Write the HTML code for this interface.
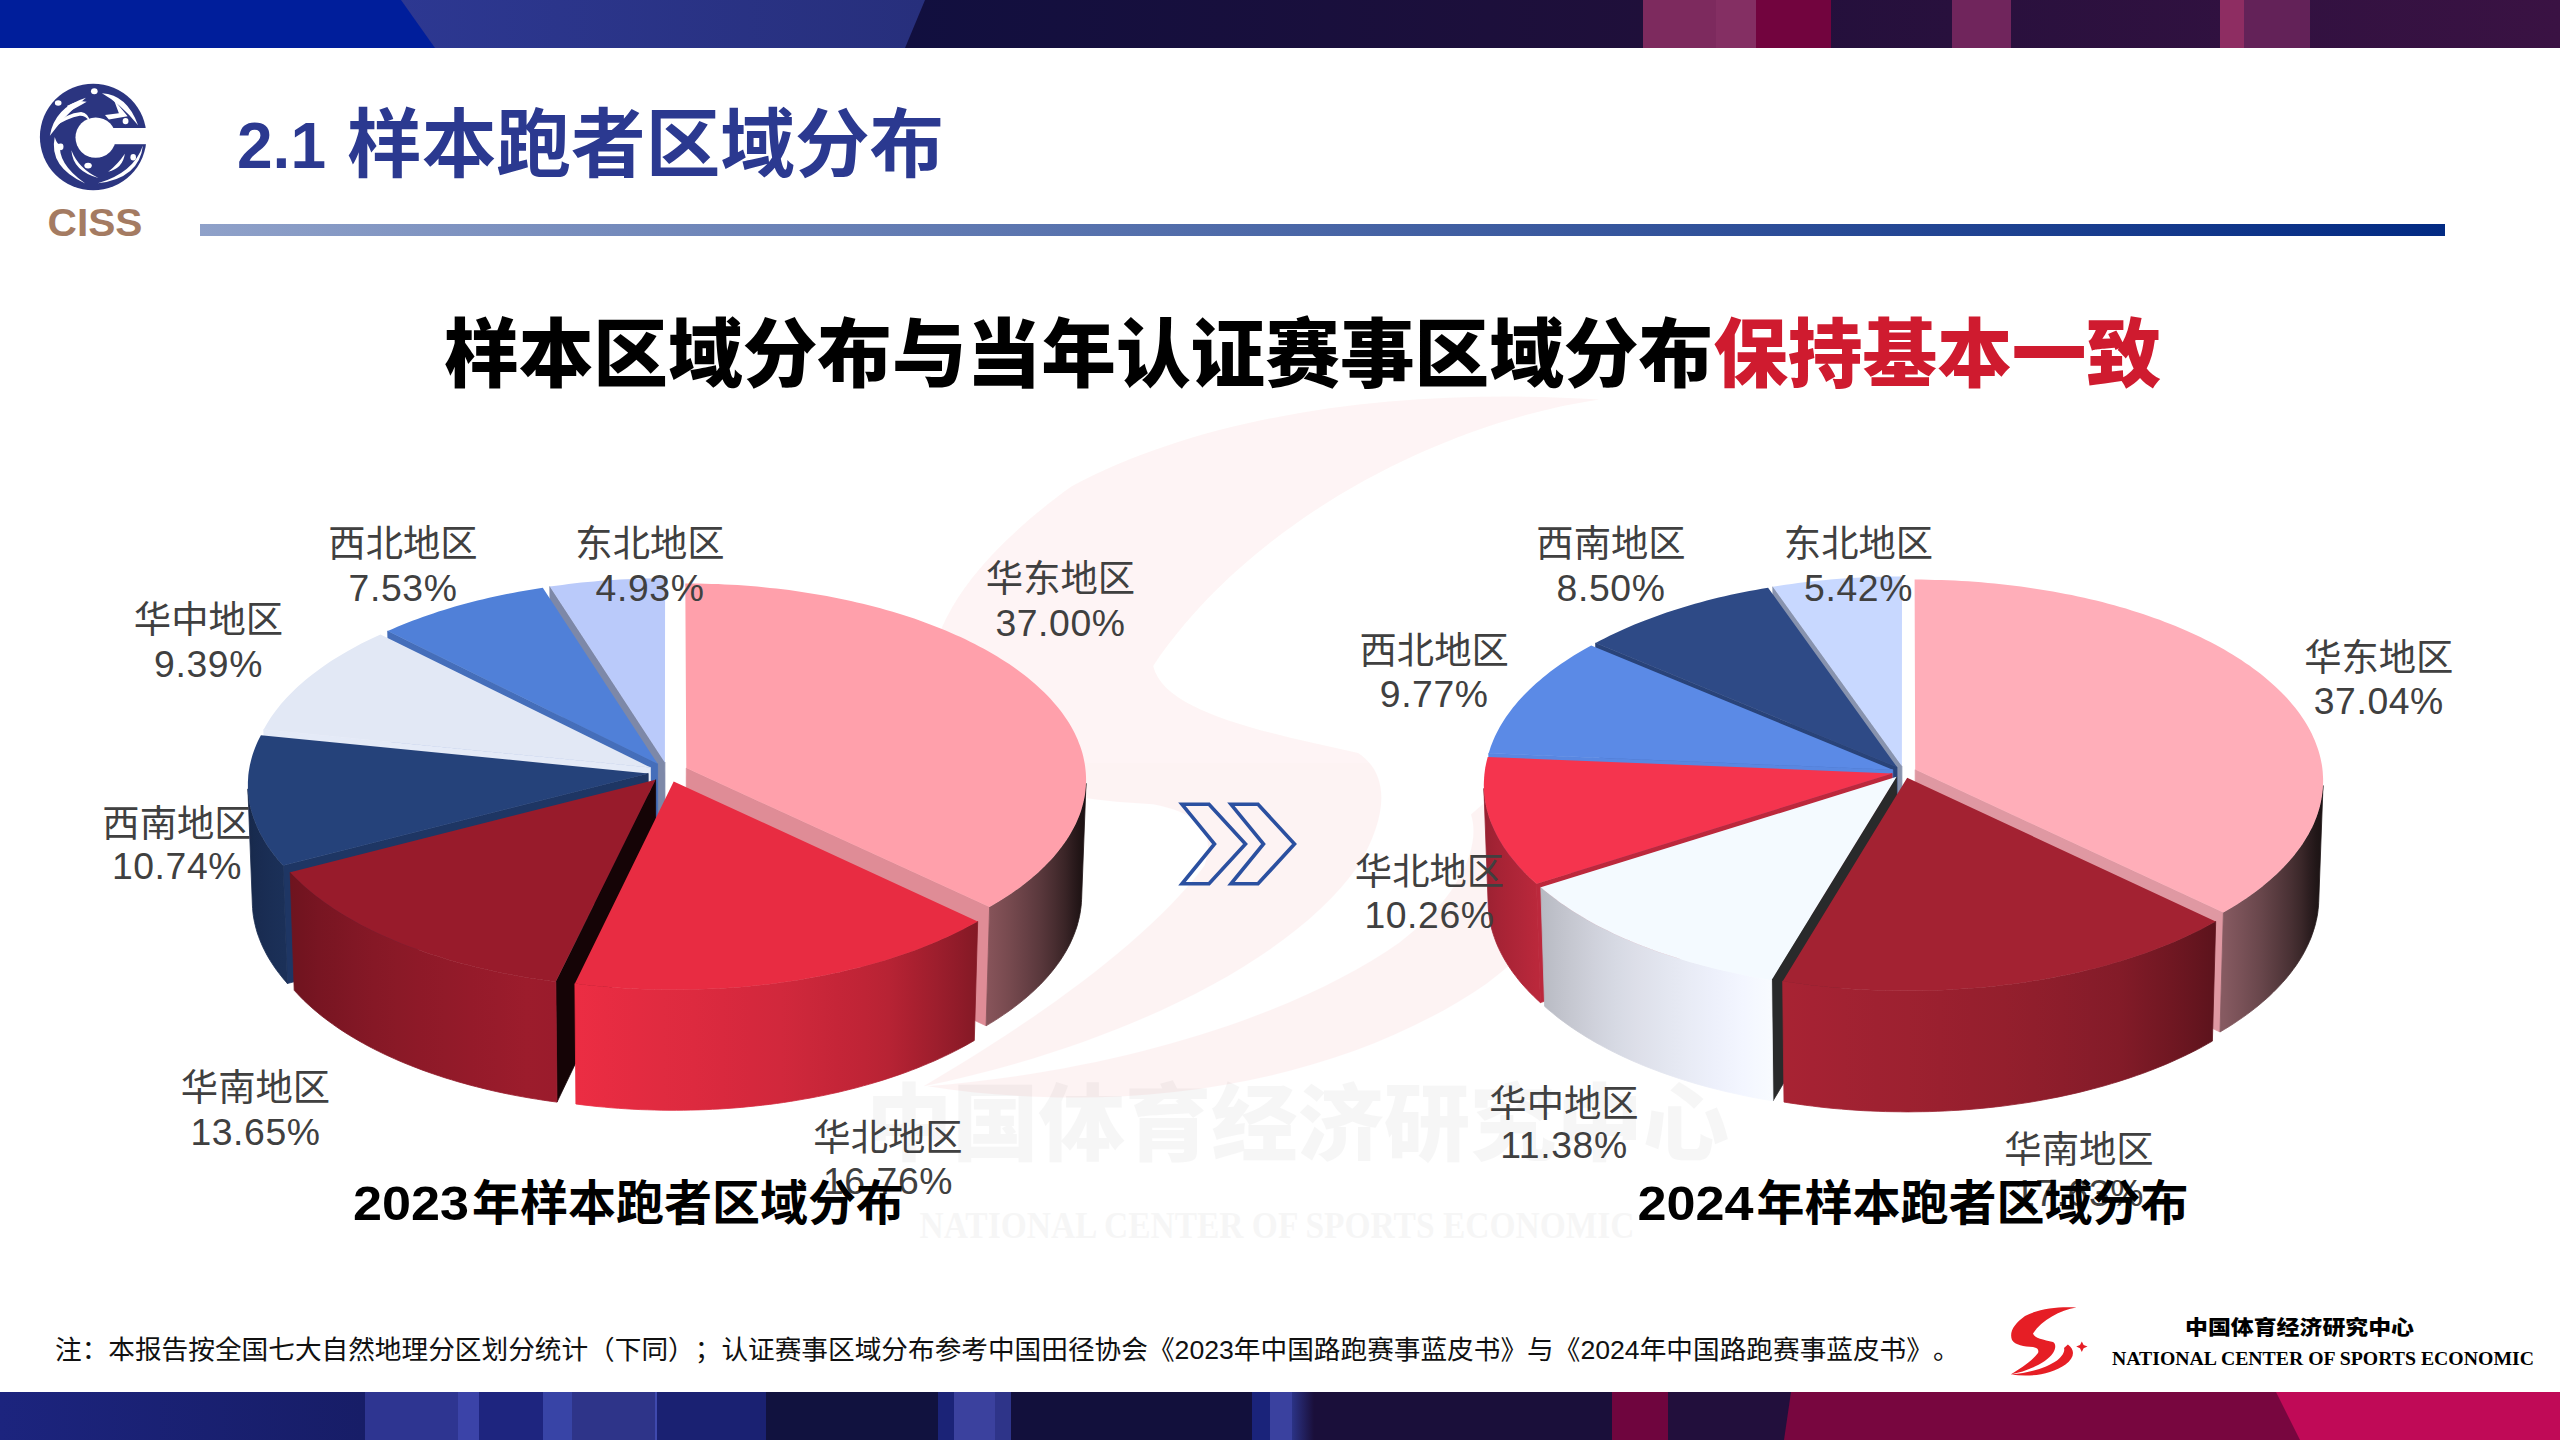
<!DOCTYPE html>
<html lang="zh-CN"><head><meta charset="utf-8"><title>2.1 样本跑者区域分布</title>
<style>html,body{margin:0;padding:0;background:#fff}svg{display:block}text{white-space:pre;text-spacing-trim:space-all}</style></head><body>
<svg width="2560" height="1440" viewBox="0 0 2560 1440">
<defs>
<linearGradient id="divg" x1="0" y1="0" x2="1" y2="0"><stop offset="0" stop-color="#8FA1C9"/><stop offset="1" stop-color="#022A83"/></linearGradient>
<linearGradient id="tb2" x1="0" y1="0" x2="1" y2="0"><stop offset="0" stop-color="#2D3892"/><stop offset="1" stop-color="#272F7C"/></linearGradient>
<linearGradient id="tb3" gradientUnits="userSpaceOnUse" x1="900" y1="0" x2="2560" y2="0"><stop offset="0" stop-color="#110F3F"/><stop offset="0.45" stop-color="#1F0F3A"/><stop offset="1" stop-color="#3A1243"/></linearGradient>
<linearGradient id="bb1" gradientUnits="userSpaceOnUse" x1="0" y1="0" x2="365" y2="0"><stop offset="0" stop-color="#1C247E"/><stop offset="1" stop-color="#171D67"/></linearGradient>
<linearGradient id="bb2" gradientUnits="userSpaceOnUse" x1="1292" y1="0" x2="1314" y2="0"><stop offset="0" stop-color="#2B3386"/><stop offset="1" stop-color="#1A0F3A"/></linearGradient>
<linearGradient id="ga0" gradientUnits="userSpaceOnUse" x1="1086.0" y1="0" x2="989.6" y2="0"><stop offset="0.000" stop-color="#1A1012"/><stop offset="0.018" stop-color="#1D1214"/><stop offset="0.059" stop-color="#201415"/><stop offset="0.124" stop-color="#2A1A1C"/><stop offset="0.213" stop-color="#392426"/><stop offset="0.326" stop-color="#482D30"/><stop offset="0.461" stop-color="#58373B"/><stop offset="0.619" stop-color="#674045"/><stop offset="0.799" stop-color="#774A4F"/><stop offset="1.000" stop-color="#865359"/></linearGradient><linearGradient id="ga3" gradientUnits="userSpaceOnUse" x1="283.2" y1="0" x2="247.9" y2="0"><stop offset="0.000" stop-color="#1B3058"/><stop offset="0.345" stop-color="#1A2E55"/><stop offset="0.618" stop-color="#192C52"/><stop offset="0.818" stop-color="#182B4F"/><stop offset="0.946" stop-color="#17294C"/><stop offset="1.000" stop-color="#16284A"/></linearGradient><linearGradient id="ga2" gradientUnits="userSpaceOnUse" x1="555.8" y1="0" x2="290.2" y2="0"><stop offset="0.000" stop-color="#9A1B2C"/><stop offset="0.109" stop-color="#9C1C2C"/><stop offset="0.215" stop-color="#981B2B"/><stop offset="0.318" stop-color="#951A2A"/><stop offset="0.417" stop-color="#911A29"/><stop offset="0.511" stop-color="#8E1928"/><stop offset="0.600" stop-color="#8A1927"/><stop offset="0.683" stop-color="#861826"/><stop offset="0.760" stop-color="#811725"/><stop offset="0.830" stop-color="#7C1623"/><stop offset="0.894" stop-color="#781522"/><stop offset="0.951" stop-color="#731420"/><stop offset="1.000" stop-color="#6E141F"/></linearGradient><linearGradient id="ga1" gradientUnits="userSpaceOnUse" x1="977.7" y1="0" x2="574.9" y2="0"><stop offset="0.000" stop-color="#831925"/><stop offset="0.049" stop-color="#901B29"/><stop offset="0.103" stop-color="#9D1E2D"/><stop offset="0.160" stop-color="#AA2030"/><stop offset="0.220" stop-color="#B72334"/><stop offset="0.283" stop-color="#BF2436"/><stop offset="0.350" stop-color="#C52538"/><stop offset="0.418" stop-color="#CB273A"/><stop offset="0.488" stop-color="#D1283C"/><stop offset="0.560" stop-color="#D5283D"/><stop offset="0.633" stop-color="#D9293E"/><stop offset="0.707" stop-color="#DD2A3F"/><stop offset="0.781" stop-color="#E02B40"/><stop offset="0.855" stop-color="#E42B41"/><stop offset="0.928" stop-color="#E82C42"/><stop offset="1.000" stop-color="#EC2D43"/></linearGradient>
<linearGradient id="gb0" gradientUnits="userSpaceOnUse" x1="2323.0" y1="0" x2="2223.4" y2="0"><stop offset="0.000" stop-color="#1B1213"/><stop offset="0.019" stop-color="#1D1415"/><stop offset="0.061" stop-color="#201617"/><stop offset="0.127" stop-color="#2A1C1E"/><stop offset="0.216" stop-color="#3A2729"/><stop offset="0.329" stop-color="#493134"/><stop offset="0.464" stop-color="#583B3F"/><stop offset="0.622" stop-color="#68464B"/><stop offset="0.801" stop-color="#775056"/><stop offset="1.000" stop-color="#865A61"/></linearGradient><linearGradient id="gb3" gradientUnits="userSpaceOnUse" x1="1536.5" y1="0" x2="1483.9" y2="0"><stop offset="0.000" stop-color="#BA283B"/><stop offset="0.294" stop-color="#B12639"/><stop offset="0.539" stop-color="#AB2436"/><stop offset="0.732" stop-color="#A52335"/><stop offset="0.873" stop-color="#9F2233"/><stop offset="0.963" stop-color="#992131"/><stop offset="1.000" stop-color="#931F2F"/></linearGradient><linearGradient id="gb2" gradientUnits="userSpaceOnUse" x1="1771.6" y1="0" x2="1540.8" y2="0"><stop offset="0.000" stop-color="#F8FBFF"/><stop offset="0.125" stop-color="#F3F6FF"/><stop offset="0.247" stop-color="#EDF0FB"/><stop offset="0.363" stop-color="#E8EBF5"/><stop offset="0.475" stop-color="#E2E5EF"/><stop offset="0.580" stop-color="#DDDFE9"/><stop offset="0.679" stop-color="#D6D9E3"/><stop offset="0.771" stop-color="#CFD1DB"/><stop offset="0.855" stop-color="#C7C9D2"/><stop offset="0.932" stop-color="#BFC1CA"/><stop offset="1.000" stop-color="#B7BAC2"/></linearGradient><linearGradient id="gb1" gradientUnits="userSpaceOnUse" x1="2215.7" y1="0" x2="1782.7" y2="0"><stop offset="0.000" stop-color="#5C131C"/><stop offset="0.050" stop-color="#66151F"/><stop offset="0.103" stop-color="#701722"/><stop offset="0.161" stop-color="#791925"/><stop offset="0.221" stop-color="#831B28"/><stop offset="0.285" stop-color="#871C2A"/><stop offset="0.352" stop-color="#8C1D2B"/><stop offset="0.421" stop-color="#901E2C"/><stop offset="0.491" stop-color="#941F2D"/><stop offset="0.564" stop-color="#971F2E"/><stop offset="0.637" stop-color="#9A202F"/><stop offset="0.710" stop-color="#9D2130"/><stop offset="0.784" stop-color="#9F2131"/><stop offset="0.857" stop-color="#A22232"/><stop offset="0.929" stop-color="#A52233"/><stop offset="1.000" stop-color="#A82333"/></linearGradient>
</defs>
<rect width="2560" height="1440" fill="#fff"/>
<g opacity="0.045" fill="#E8000C" transform="translate(815,302) scale(10.25)"><path d="M76.5,9.5 C60,12 42,22 33,35.5 C34,40 44,42 53,44 C56,46 56,50 53,55 C46,65 28,73 10.6,76.5 C20,71 32,63 38,55 C39,52 38,50 33,49 C24,48.5 15,47 12,42 C9,34 14,26 25,18 C40,10 60,8.5 76.5,9.5 Z"/><path d="M67.9,46.6 C75.5,52 74.5,60 65.5,66.5 C51,76.5 30,79.5 11,76.5 C30,75 47,69.5 57,62.5 C63,58 65,53 64,50 Z"/><path d="M81.8,43.5 L83.6,47 L87.5,48.6 L83.6,50.2 L81.8,54 L80,50.2 L76.2,48.6 L80,47 Z"/></g>
<g opacity="0.032" fill="#000">
<text x="1297.5" y="1154" font-size="84" font-weight="900" text-anchor="middle" textLength="863" lengthAdjust="spacingAndGlyphs" font-family="'Liberation Sans','Noto Sans CJK SC',sans-serif">中国体育经济研究中心</text>
<text x="1277" y="1237.5" font-size="37" font-weight="700" text-anchor="middle" textLength="715" lengthAdjust="spacingAndGlyphs" font-family="'Liberation Serif','Noto Serif CJK SC',serif">NATIONAL CENTER OF SPORTS ECONOMIC</text>
</g>
<g id="topbar">
<rect x="0" y="0" width="2560" height="48" fill="url(#tb3)"/>
<polygon points="380,0 925,0 905,48 380,48" fill="url(#tb2)"/>
<polygon points="0,0 401,0 435,48 0,48" fill="#001E9B"/>
<rect x="1643" y="0" width="73" height="48" fill="#7D2A5E"/>
<rect x="1716" y="0" width="40" height="48" fill="#842F63"/>
<rect x="1756" y="0" width="75" height="48" fill="#72043E"/>
<rect x="1952" y="0" width="59" height="48" fill="#70255C"/>
<rect x="2220" y="0" width="24" height="48" fill="#8E2D62"/>
<rect x="2244" y="0" width="66" height="48" fill="#632258"/>
</g>
<g id="botbar">
<rect x="0" y="1392" width="365" height="48" fill="url(#bb1)"/>
<rect x="365" y="1392" width="93" height="48" fill="#2E3591"/>
<rect x="458" y="1392" width="21" height="48" fill="#3B43A8"/>
<rect x="479" y="1392" width="64" height="48" fill="#1E257F"/>
<rect x="543" y="1392" width="29" height="48" fill="#3844A6"/>
<rect x="572" y="1392" width="83" height="48" fill="#2E3489"/>
<rect x="655" y="1392" width="2" height="48" fill="#3F49AE"/>
<rect x="657" y="1392" width="109" height="48" fill="#1A2172"/>
<rect x="766" y="1392" width="172" height="48" fill="#11123F"/>
<rect x="938" y="1392" width="16" height="48" fill="#1B2377"/>
<rect x="954" y="1392" width="41" height="48" fill="#3B419E"/>
<rect x="995" y="1392" width="16" height="48" fill="#2E3489"/>
<rect x="1011" y="1392" width="241" height="48" fill="#12103C"/>
<rect x="1252" y="1392" width="18" height="48" fill="#1A237A"/>
<rect x="1270" y="1392" width="22" height="48" fill="#3A419F"/>
<rect x="1292" y="1392" width="22" height="48" fill="url(#bb2)"/>
<rect x="1314" y="1392" width="298" height="48" fill="#1A0F3A"/>
<rect x="1612" y="1392" width="56" height="48" fill="#6F053E"/>
<rect x="1668" y="1392" width="132" height="48" fill="#220F3C"/>
<polygon points="1791,1392 2560,1392 2560,1440 1784,1440" fill="#78063F"/>
<polygon points="2276,1392 2560,1392 2560,1440 2300,1440" fill="#C00A57"/>
</g>
<g id="ciss">
<circle cx="93.2" cy="137" r="53.3" fill="#2B3580"/>
<circle cx="95.7" cy="137.6" r="20.2" fill="#fff"/>
<rect x="96" y="128" width="55" height="16.2" fill="#fff"/>
<g fill="#fff" transform="translate(20,60) scale(0.13889)">
<path d="M215,545 Q250,340 475,272 Q335,385 215,545 Z"/>
<path d="M340,330 Q420,285 480,300 Q430,330 350,372 Z"/>
<path d="M250,480 Q330,380 440,375 Q495,385 500,440 Q470,400 430,402 Q340,420 250,480 Z"/>
<path d="M590,240 Q770,250 850,470 Q725,315 590,240 Z"/>
<path d="M675,285 L775,405 L640,428 L612,396 L712,384 Z"/>
<path d="M250,555 Q205,770 470,890 Q265,745 290,600 Q270,620 250,555 Z"/>
<path d="M370,650 Q380,800 565,850 Q420,780 370,650 Z"/>
<path d="M755,675 Q740,780 635,805 Q705,750 755,675 Z"/>
<path d="M885,615 Q860,850 560,888 Q820,810 885,615 Z"/>
<ellipse cx="535" cy="225" rx="24" ry="21"/><ellipse cx="275" cy="310" rx="24" ry="20"/><ellipse cx="760" cy="440" rx="21" ry="23"/><ellipse cx="295" cy="625" rx="18" ry="24"/><ellipse cx="490" cy="760" rx="27" ry="21"/><ellipse cx="815" cy="700" rx="20" ry="23"/>
</g>
<text x="95" y="235.6" font-size="39" font-weight="700" fill="#A47B62" text-anchor="middle" textLength="95" lengthAdjust="spacingAndGlyphs" font-family="'Liberation Sans','Noto Sans CJK SC',sans-serif">CISS</text>
</g>
<text x="237" y="171" font-size="74.67" font-weight="700" fill="#2B3990" font-family="'Liberation Sans','Noto Sans CJK SC',sans-serif"><tspan font-size="64" y="167.5">2.1</tspan><tspan x="347" y="171">样本跑者区域分布</tspan></text>
<rect x="200" y="224" width="2245" height="12" fill="url(#divg)"/>
<text x="444" y="381" font-size="74.67" font-weight="900" fill="#000" font-family="'Liberation Sans','Noto Sans CJK SC',sans-serif">样本区域分布与当年认证赛事区域分布<tspan fill="#CF1B2F">保持基本一致</tspan></text>
<g id="pie1"><polygon points="664.9,762.4 549.8,586.6 551.0,698.1 665.0,878.0" fill="#7D88A8" stroke="#7D88A8" stroke-width="0.8" stroke-linejoin="round"/><polygon points="664.9,762.4 549.8,586.6 556.0,585.7 562.3,584.9 568.6,584.1 574.9,583.3 581.3,582.6 587.7,582.0 594.0,581.4 600.4,580.8 606.9,580.4 613.3,579.9 619.7,579.5 626.2,579.2 632.7,578.9 639.1,578.7 645.6,578.5 652.1,578.4 658.6,578.3 665.1,578.3" fill="#BACAFA"/><polygon points="657.6,763.7 387.7,631.0 390.5,743.6 657.8,879.3" fill="#456EBA" stroke="#456EBA" stroke-width="0.8" stroke-linejoin="round"/><polygon points="657.6,763.7 387.7,631.0 392.5,628.9 397.4,626.8 402.3,624.8 407.3,622.8 412.4,620.8 417.5,618.9 422.7,617.0 427.9,615.2 433.2,613.4 438.6,611.6 444.0,609.9 449.5,608.2 455.0,606.6 460.5,605.0 466.1,603.5 471.8,602.0 477.5,600.6 483.3,599.2 489.1,597.8 494.9,596.5 500.8,595.2 506.7,594.0 512.6,592.9 518.6,591.8 524.6,590.7 530.7,589.7 536.7,588.7 542.8,587.8" fill="#5080D8"/><polygon points="650.4,767.4 263.7,729.5 267.9,844.3 650.6,883.1" fill="#E4EAF7" stroke="#E4EAF7" stroke-width="0.8" stroke-linejoin="round"/><polygon points="650.4,767.4 263.7,729.5 265.5,726.2 267.4,723.0 269.4,719.8 271.5,716.6 273.7,713.5 276.1,710.3 278.5,707.2 281.0,704.1 283.7,701.1 286.4,698.0 289.3,695.0 292.3,692.0 295.3,689.1 298.5,686.1 301.7,683.2 305.1,680.3 308.5,677.5 312.0,674.7 315.7,671.9 319.4,669.2 323.2,666.4 327.1,663.8 331.1,661.1 335.2,658.5 339.4,655.9 343.6,653.4 347.9,650.9 352.4,648.4 356.9,646.0 361.4,643.6 366.1,641.3 370.8,638.9 375.6,636.7 380.5,634.5" fill="#E2E8F5"/><polygon points="686.3,768.1 989.6,907.0 986.1,1025.8 686.1,883.9" fill="#DF8C96" stroke="#DF8C96" stroke-width="0.8" stroke-linejoin="round"/><polygon points="1086.0,783.3 1085.8,786.7 1085.5,790.1 1085.1,793.5 1084.5,796.9 1083.8,800.3 1083.0,803.7 1082.1,807.1 1081.1,810.5 1079.9,813.9 1078.6,817.2 1077.2,820.6 1075.7,824.0 1074.0,827.3 1072.2,830.6 1070.3,834.0 1068.3,837.3 1066.2,840.6 1063.9,843.8 1061.5,847.1 1059.0,850.3 1056.4,853.6 1053.7,856.8 1050.8,859.9 1047.8,863.1 1044.7,866.2 1041.5,869.3 1038.2,872.4 1034.7,875.5 1031.2,878.5 1027.5,881.5 1023.7,884.5 1019.9,887.4 1015.8,890.3 1011.7,893.2 1007.5,896.0 1003.2,898.8 998.8,901.6 994.2,904.3 989.6,907.0 986.1,1025.8 990.7,1023.1 995.2,1020.3 999.5,1017.5 1003.8,1014.6 1008.0,1011.7 1012.1,1008.8 1016.0,1005.8 1019.9,1002.8 1023.6,999.8 1027.3,996.7 1030.8,993.6 1034.2,990.5 1037.5,987.3 1040.7,984.2 1043.7,981.0 1046.7,977.7 1049.5,974.5 1052.2,971.2 1054.8,967.9 1057.3,964.6 1059.7,961.3 1061.9,957.9 1064.0,954.6 1066.0,951.2 1067.9,947.8 1069.7,944.4 1071.3,940.9 1072.8,937.5 1074.2,934.1 1075.5,930.6 1076.7,927.2 1077.7,923.7 1078.6,920.2 1079.4,916.8 1080.1,913.3 1080.6,909.8 1081.1,906.3 1081.4,902.8 1081.6,899.3" fill="url(#ga0)" stroke="url(#ga0)" stroke-width="0.8" stroke-linejoin="round"/><polygon points="686.3,768.1 685.3,583.4 691.9,583.5 698.4,583.5 705.0,583.7 711.5,583.9 718.1,584.1 724.6,584.4 731.1,584.7 737.6,585.1 744.1,585.6 750.6,586.1 757.1,586.6 763.5,587.2 770.0,587.9 776.4,588.6 782.8,589.3 789.1,590.1 795.5,591.0 801.8,591.9 808.0,592.9 814.3,593.9 820.5,594.9 826.7,596.1 832.8,597.2 838.9,598.4 845.0,599.7 851.0,601.0 857.0,602.4 862.9,603.8 868.8,605.2 874.7,606.7 880.5,608.3 886.2,609.9 891.9,611.6 897.6,613.2 903.2,615.0 908.7,616.8 914.2,618.6 919.6,620.5 924.9,622.4 930.2,624.4 935.4,626.4 940.6,628.4 945.7,630.5 950.7,632.7 955.7,634.9 960.6,637.1 965.4,639.3 970.1,641.7 974.8,644.0 979.3,646.4 983.9,648.8 988.3,651.3 992.6,653.8 996.9,656.3 1001.1,658.9 1005.1,661.5 1009.2,664.1 1013.1,666.8 1016.9,669.5 1020.6,672.3 1024.3,675.0 1027.8,677.8 1031.3,680.7 1034.6,683.6 1037.9,686.5 1041.1,689.4 1044.1,692.3 1047.1,695.3 1050.0,698.3 1052.8,701.4 1055.4,704.4 1058.0,707.5 1060.4,710.6 1062.8,713.8 1065.0,716.9 1067.1,720.1 1069.2,723.3 1071.1,726.5 1072.9,729.8 1074.6,733.0 1076.1,736.3 1077.6,739.6 1078.9,742.9 1080.2,746.2 1081.3,749.5 1082.3,752.8 1083.2,756.2 1083.9,759.5 1084.6,762.9 1085.1,766.3 1085.5,769.7 1085.8,773.1 1086.0,776.5 1086.1,779.9 1086.0,783.3 1085.8,786.7 1085.5,790.1 1085.1,793.5 1084.5,796.9 1083.8,800.3 1083.0,803.7 1082.1,807.1 1081.1,810.5 1079.9,813.9 1078.6,817.2 1077.2,820.6 1075.7,824.0 1074.0,827.3 1072.2,830.6 1070.3,834.0 1068.3,837.3 1066.2,840.6 1063.9,843.8 1061.5,847.1 1059.0,850.3 1056.4,853.6 1053.7,856.8 1050.8,859.9 1047.8,863.1 1044.7,866.2 1041.5,869.3 1038.2,872.4 1034.7,875.5 1031.2,878.5 1027.5,881.5 1023.7,884.5 1019.9,887.4 1015.8,890.3 1011.7,893.2 1007.5,896.0 1003.2,898.8 998.8,901.6 994.2,904.3 989.6,907.0" fill="#FFA0AB"/><polygon points="648.2,773.4 283.2,865.6 287.4,983.5 648.4,889.2" fill="#1E3664" stroke="#1E3664" stroke-width="0.8" stroke-linejoin="round"/><polygon points="283.2,865.6 280.3,862.4 277.6,859.2 275.0,855.9 272.5,852.7 270.1,849.4 267.8,846.2 265.7,842.9 263.7,839.6 261.8,836.2 260.0,832.9 258.3,829.6 256.8,826.2 255.4,822.8 254.1,819.5 252.9,816.1 251.9,812.7 250.9,809.3 250.1,805.9 249.5,802.5 248.9,799.1 248.5,795.7 248.1,792.3 247.9,788.9 252.4,905.1 252.6,908.5 252.9,912.0 253.3,915.5 253.9,919.0 254.6,922.5 255.4,925.9 256.3,929.4 257.3,932.9 258.5,936.3 259.8,939.8 261.2,943.2 262.7,946.7 264.4,950.1 266.1,953.5 268.0,956.9 270.0,960.3 272.1,963.6 274.4,967.0 276.7,970.3 279.2,973.6 281.8,976.9 284.5,980.2 287.4,983.5" fill="url(#ga3)" stroke="url(#ga3)" stroke-width="0.8" stroke-linejoin="round"/><polygon points="648.2,773.4 283.2,865.6 280.3,862.4 277.6,859.2 275.0,855.9 272.5,852.7 270.1,849.4 267.8,846.2 265.7,842.9 263.7,839.6 261.8,836.2 260.0,832.9 258.3,829.6 256.8,826.2 255.4,822.8 254.1,819.5 252.9,816.1 251.9,812.7 250.9,809.3 250.1,805.9 249.5,802.5 248.9,799.1 248.5,795.7 248.1,792.3 247.9,788.9 247.9,785.5 247.9,782.1 248.1,778.7 248.3,775.3 248.7,771.9 249.3,768.5 249.9,765.1 250.7,761.8 251.5,758.4 252.5,755.1 253.6,751.7 254.8,748.4 256.2,745.1 257.6,741.8 259.2,738.6 260.9,735.3" fill="#25427A"/><polygon points="655.6,779.7 555.8,981.7 557.0,1102.1 655.8,895.7" fill="#150406" stroke="#150406" stroke-width="0.8" stroke-linejoin="round"/><polygon points="555.8,981.7 548.8,980.8 541.8,979.8 534.8,978.8 527.9,977.7 521.1,976.5 514.3,975.3 507.5,974.0 500.8,972.7 494.1,971.3 487.5,969.8 481.0,968.3 474.5,966.7 468.1,965.1 461.7,963.4 455.4,961.7 449.2,959.9 443.0,958.0 436.9,956.1 430.9,954.2 425.0,952.2 419.1,950.1 413.4,948.0 407.7,945.9 402.0,943.7 396.5,941.4 391.1,939.1 385.7,936.8 380.5,934.4 375.3,931.9 370.2,929.5 365.2,926.9 360.3,924.4 355.5,921.8 350.8,919.1 346.3,916.4 341.8,913.7 337.4,911.0 333.1,908.2 328.9,905.3 324.8,902.5 320.9,899.6 317.0,896.7 313.3,893.7 309.6,890.7 306.1,887.7 302.7,884.7 299.4,881.6 296.2,878.5 293.1,875.4 290.2,872.2 294.2,990.3 297.2,993.5 300.2,996.7 303.4,999.9 306.6,1003.0 310.0,1006.1 313.5,1009.2 317.1,1012.2 320.8,1015.3 324.6,1018.2 328.6,1021.2 332.6,1024.1 336.7,1027.0 341.0,1029.9 345.3,1032.7 349.8,1035.5 354.3,1038.2 359.0,1040.9 363.7,1043.6 368.5,1046.2 373.5,1048.8 378.5,1051.3 383.6,1053.8 388.8,1056.2 394.1,1058.6 399.5,1061.0 405.0,1063.3 410.5,1065.5 416.2,1067.7 421.9,1069.9 427.7,1072.0 433.5,1074.0 439.5,1076.0 445.5,1078.0 451.6,1079.8 457.8,1081.7 464.0,1083.4 470.3,1085.2 476.6,1086.8 483.0,1088.4 489.5,1090.0 496.1,1091.5 502.6,1092.9 509.3,1094.3 516.0,1095.6 522.7,1096.8 529.5,1098.0 536.3,1099.1 543.2,1100.2 550.1,1101.2 557.0,1102.1" fill="url(#ga2)" stroke="url(#ga2)" stroke-width="0.8" stroke-linejoin="round"/><polygon points="655.6,779.7 555.8,981.7 548.8,980.8 541.8,979.8 534.8,978.8 527.9,977.7 521.1,976.5 514.3,975.3 507.5,974.0 500.8,972.7 494.1,971.3 487.5,969.8 481.0,968.3 474.5,966.7 468.1,965.1 461.7,963.4 455.4,961.7 449.2,959.9 443.0,958.0 436.9,956.1 430.9,954.2 425.0,952.2 419.1,950.1 413.4,948.0 407.7,945.9 402.0,943.7 396.5,941.4 391.1,939.1 385.7,936.8 380.5,934.4 375.3,931.9 370.2,929.5 365.2,926.9 360.3,924.4 355.5,921.8 350.8,919.1 346.3,916.4 341.8,913.7 337.4,911.0 333.1,908.2 328.9,905.3 324.8,902.5 320.9,899.6 317.0,896.7 313.3,893.7 309.6,890.7 306.1,887.7 302.7,884.7 299.4,881.6 296.2,878.5 293.1,875.4 290.2,872.2" fill="#981B2B"/><polygon points="977.7,921.4 973.0,924.0 968.1,926.6 963.2,929.2 958.1,931.7 953.0,934.2 947.8,936.7 942.4,939.1 937.0,941.4 931.5,943.7 925.9,946.0 920.3,948.2 914.5,950.4 908.7,952.5 902.7,954.5 896.7,956.5 890.7,958.5 884.5,960.4 878.3,962.2 872.0,964.0 865.6,965.8 859.2,967.5 852.7,969.1 846.2,970.6 839.6,972.2 832.9,973.6 826.2,975.0 819.4,976.3 812.5,977.6 805.7,978.8 798.7,979.9 791.8,981.0 784.8,982.1 777.7,983.0 770.6,983.9 763.5,984.7 756.4,985.5 749.2,986.2 742.0,986.9 734.8,987.4 727.5,988.0 720.2,988.4 713.0,988.8 705.7,989.1 698.4,989.3 691.0,989.5 683.7,989.7 676.4,989.7 669.1,989.7 661.7,989.6 654.4,989.5 647.1,989.3 639.8,989.0 632.5,988.6 625.2,988.2 617.9,987.8 610.7,987.2 603.5,986.6 596.3,986.0 589.1,985.2 582.0,984.4 574.9,983.6 575.9,1104.0 582.9,1104.9 590.0,1105.7 597.1,1106.5 604.2,1107.1 611.3,1107.8 618.5,1108.3 625.7,1108.8 632.9,1109.2 640.1,1109.6 647.3,1109.8 654.6,1110.0 661.8,1110.2 669.0,1110.3 676.3,1110.3 683.5,1110.2 690.8,1110.1 698.0,1109.9 705.2,1109.7 712.5,1109.3 719.7,1109.0 726.9,1108.5 734.0,1108.0 741.2,1107.4 748.3,1106.7 755.4,1106.0 762.5,1105.2 769.5,1104.4 776.5,1103.5 783.5,1102.5 790.4,1101.4 797.3,1100.3 804.1,1099.1 810.9,1097.9 817.7,1096.6 824.4,1095.3 831.0,1093.8 837.6,1092.4 844.2,1090.8 850.7,1089.2 857.1,1087.6 863.4,1085.8 869.7,1084.1 876.0,1082.2 882.1,1080.4 888.2,1078.4 894.2,1076.4 900.1,1074.4 906.0,1072.3 911.8,1070.1 917.5,1067.9 923.1,1065.6 928.6,1063.3 934.1,1061.0 939.4,1058.6 944.7,1056.1 949.9,1053.6 954.9,1051.1 959.9,1048.5 964.8,1045.9 969.6,1043.2 974.3,1040.5" fill="url(#ga1)" stroke="url(#ga1)" stroke-width="0.8" stroke-linejoin="round"/><polygon points="673.7,781.4 977.7,921.4 973.0,924.0 968.1,926.6 963.2,929.2 958.1,931.7 953.0,934.2 947.8,936.7 942.4,939.1 937.0,941.4 931.5,943.7 925.9,946.0 920.3,948.2 914.5,950.4 908.7,952.5 902.7,954.5 896.7,956.5 890.7,958.5 884.5,960.4 878.3,962.2 872.0,964.0 865.6,965.8 859.2,967.5 852.7,969.1 846.2,970.6 839.6,972.2 832.9,973.6 826.2,975.0 819.4,976.3 812.5,977.6 805.7,978.8 798.7,979.9 791.8,981.0 784.8,982.1 777.7,983.0 770.6,983.9 763.5,984.7 756.4,985.5 749.2,986.2 742.0,986.9 734.8,987.4 727.5,988.0 720.2,988.4 713.0,988.8 705.7,989.1 698.4,989.3 691.0,989.5 683.7,989.7 676.4,989.7 669.1,989.7 661.7,989.6 654.4,989.5 647.1,989.3 639.8,989.0 632.5,988.6 625.2,988.2 617.9,987.8 610.7,987.2 603.5,986.6 596.3,986.0 589.1,985.2 582.0,984.4 574.9,983.6" fill="#E82C42"/></g>
<g id="pie2"><polygon points="1901.9,766.1 1772.8,586.8 1774.1,699.3 1902.0,882.5" fill="#8893AE" stroke="#8893AE" stroke-width="0.8" stroke-linejoin="round"/><polygon points="1901.9,766.1 1772.8,586.8 1779.1,585.8 1785.4,584.8 1791.7,583.9 1798.0,583.1 1804.4,582.3 1810.8,581.5 1817.2,580.8 1823.7,580.2 1830.1,579.6 1836.6,579.0 1843.1,578.5 1849.6,578.1 1856.2,577.7 1862.7,577.4 1869.2,577.1 1875.8,576.8 1882.3,576.7 1888.9,576.5 1895.5,576.5 1902.0,576.4" fill="#C8D8FF"/><polygon points="1897.0,767.1 1595.6,643.1 1598.6,756.8 1897.1,883.5" fill="#294379" stroke="#294379" stroke-width="0.8" stroke-linejoin="round"/><polygon points="1897.0,767.1 1595.6,643.1 1600.2,640.6 1604.9,638.2 1609.6,635.8 1614.5,633.5 1619.4,631.2 1624.3,629.0 1629.4,626.8 1634.5,624.6 1639.7,622.5 1644.9,620.4 1650.3,618.4 1655.7,616.4 1661.1,614.5 1666.6,612.6 1672.2,610.7 1677.8,608.9 1683.5,607.2 1689.2,605.5 1695.0,603.8 1700.9,602.2 1706.8,600.6 1712.7,599.1 1718.7,597.6 1724.7,596.2 1730.8,594.8 1736.9,593.5 1743.1,592.3 1749.3,591.0 1755.5,589.9 1761.8,588.7 1768.1,587.7" fill="#2E4A86"/><polygon points="1915.2,769.6 2223.4,912.5 2220.0,1032.0 1915.1,886.1" fill="#DF98A2" stroke="#DF98A2" stroke-width="0.8" stroke-linejoin="round"/><polygon points="2323.0,785.5 2322.8,789.0 2322.4,792.5 2321.9,796.0 2321.3,799.5 2320.6,803.0 2319.8,806.5 2318.8,810.0 2317.7,813.5 2316.5,817.0 2315.1,820.4 2313.7,823.9 2312.1,827.4 2310.3,830.8 2308.5,834.2 2306.5,837.6 2304.4,841.0 2302.2,844.4 2299.9,847.8 2297.4,851.1 2294.8,854.4 2292.1,857.7 2289.3,861.0 2286.3,864.3 2283.3,867.5 2280.1,870.8 2276.8,873.9 2273.3,877.1 2269.8,880.2 2266.1,883.3 2262.4,886.4 2258.5,889.5 2254.5,892.5 2250.3,895.4 2246.1,898.4 2241.8,901.3 2237.3,904.2 2232.8,907.0 2228.1,909.8 2223.4,912.5 2220.0,1032.0 2224.7,1029.2 2229.3,1026.4 2233.8,1023.5 2238.2,1020.5 2242.5,1017.6 2246.7,1014.6 2250.8,1011.5 2254.7,1008.5 2258.6,1005.4 2262.3,1002.2 2266.0,999.1 2269.5,995.9 2272.9,992.6 2276.1,989.4 2279.3,986.1 2282.3,982.8 2285.3,979.5 2288.1,976.1 2290.8,972.7 2293.3,969.3 2295.8,965.9 2298.1,962.5 2300.3,959.0 2302.4,955.6 2304.3,952.1 2306.1,948.6 2307.8,945.1 2309.4,941.6 2310.9,938.0 2312.2,934.5 2313.4,930.9 2314.5,927.4 2315.5,923.8 2316.3,920.2 2317.1,916.7 2317.7,913.1 2318.1,909.5 2318.5,905.9 2318.7,902.4" fill="url(#gb0)" stroke="url(#gb0)" stroke-width="0.8" stroke-linejoin="round"/><polygon points="1915.2,769.6 1914.6,579.6 1921.3,579.6 1928.0,579.7 1934.7,579.9 1941.4,580.0 1948.1,580.3 1954.8,580.6 1961.5,580.9 1968.1,581.3 1974.8,581.8 1981.4,582.3 1988.0,582.9 1994.6,583.5 2001.2,584.2 2007.8,584.9 2014.3,585.7 2020.8,586.5 2027.3,587.4 2033.7,588.4 2040.1,589.4 2046.5,590.4 2052.9,591.5 2059.2,592.7 2065.5,593.9 2071.7,595.1 2077.9,596.4 2084.1,597.8 2090.2,599.2 2096.2,600.6 2102.3,602.1 2108.2,603.7 2114.2,605.3 2120.0,606.9 2125.9,608.6 2131.6,610.4 2137.3,612.2 2143.0,614.0 2148.6,615.9 2154.1,617.9 2159.6,619.8 2164.9,621.9 2170.3,623.9 2175.5,626.1 2180.7,628.2 2185.9,630.4 2190.9,632.7 2195.9,635.0 2200.8,637.3 2205.6,639.7 2210.4,642.1 2215.1,644.6 2219.7,647.1 2224.2,649.6 2228.6,652.2 2232.9,654.8 2237.2,657.4 2241.3,660.1 2245.4,662.9 2249.4,665.6 2253.3,668.4 2257.1,671.2 2260.8,674.1 2264.4,677.0 2267.9,679.9 2271.3,682.9 2274.7,685.9 2277.9,688.9 2281.0,691.9 2284.0,695.0 2286.9,698.1 2289.7,701.3 2292.4,704.4 2295.0,707.6 2297.5,710.8 2299.9,714.0 2302.1,717.3 2304.3,720.5 2306.3,723.8 2308.2,727.1 2310.1,730.5 2311.8,733.8 2313.3,737.2 2314.8,740.6 2316.1,744.0 2317.4,747.4 2318.5,750.8 2319.5,754.2 2320.4,757.7 2321.1,761.1 2321.8,764.6 2322.3,768.1 2322.7,771.6 2322.9,775.0 2323.1,778.5 2323.1,782.0 2323.0,785.5 2322.8,789.0 2322.4,792.5 2321.9,796.0 2321.3,799.5 2320.6,803.0 2319.8,806.5 2318.8,810.0 2317.7,813.5 2316.5,817.0 2315.1,820.4 2313.7,823.9 2312.1,827.4 2310.3,830.8 2308.5,834.2 2306.5,837.6 2304.4,841.0 2302.2,844.4 2299.9,847.8 2297.4,851.1 2294.8,854.4 2292.1,857.7 2289.3,861.0 2286.3,864.3 2283.3,867.5 2280.1,870.8 2276.8,873.9 2273.3,877.1 2269.8,880.2 2266.1,883.3 2262.4,886.4 2258.5,889.5 2254.5,892.5 2250.3,895.4 2246.1,898.4 2241.8,901.3 2237.3,904.2 2232.8,907.0 2228.1,909.8 2223.4,912.5" fill="#FFAEB9"/><polygon points="1892.7,769.7 1488.7,753.3 1492.9,869.5 1892.8,886.2" fill="#5987E1" stroke="#5987E1" stroke-width="0.8" stroke-linejoin="round"/><polygon points="1892.7,769.7 1488.7,753.3 1489.7,749.9 1490.8,746.6 1492.1,743.2 1493.4,739.9 1494.9,736.6 1496.5,733.3 1498.2,730.0 1499.9,726.7 1501.9,723.5 1503.9,720.3 1506.0,717.1 1508.2,713.9 1510.6,710.7 1513.0,707.5 1515.6,704.4 1518.2,701.3 1521.0,698.3 1523.8,695.2 1526.8,692.2 1529.8,689.2 1533.0,686.2 1536.2,683.3 1539.6,680.4 1543.0,677.5 1546.5,674.7 1550.1,671.8 1553.9,669.1 1557.7,666.3 1561.6,663.6 1565.5,660.9 1569.6,658.3 1573.8,655.6 1578.0,653.1 1582.3,650.5 1586.7,648.0 1591.2,645.6" fill="#5B8AE6"/><polygon points="1892.1,773.4 1536.5,883.7 1540.4,1002.6 1892.2,890.0" fill="#BC283C" stroke="#BC283C" stroke-width="0.8" stroke-linejoin="round"/><polygon points="1536.5,883.7 1533.0,880.6 1529.6,877.4 1526.3,874.2 1523.1,870.9 1520.0,867.7 1517.1,864.4 1514.3,861.1 1511.6,857.8 1509.0,854.4 1506.5,851.0 1504.2,847.7 1502.0,844.2 1499.9,840.8 1498.0,837.4 1496.2,834.0 1494.5,830.5 1492.9,827.0 1491.4,823.5 1490.1,820.1 1488.9,816.6 1487.9,813.1 1486.9,809.5 1486.1,806.0 1485.4,802.5 1484.8,799.0 1484.4,795.5 1484.1,792.0 1483.9,788.4 1488.2,905.3 1488.4,908.9 1488.7,912.5 1489.1,916.1 1489.7,919.7 1490.4,923.3 1491.2,926.9 1492.1,930.5 1493.2,934.1 1494.4,937.6 1495.7,941.2 1497.1,944.7 1498.7,948.3 1500.4,951.8 1502.2,955.3 1504.1,958.8 1506.2,962.3 1508.4,965.8 1510.7,969.3 1513.1,972.7 1515.7,976.1 1518.3,979.5 1521.1,982.9 1524.0,986.2 1527.1,989.6 1530.2,992.9 1533.5,996.1 1536.9,999.4 1540.4,1002.6" fill="url(#gb3)" stroke="url(#gb3)" stroke-width="0.8" stroke-linejoin="round"/><polygon points="1892.1,773.4 1536.5,883.7 1533.0,880.6 1529.6,877.4 1526.3,874.2 1523.1,870.9 1520.0,867.7 1517.1,864.4 1514.3,861.1 1511.6,857.8 1509.0,854.4 1506.5,851.0 1504.2,847.7 1502.0,844.2 1499.9,840.8 1498.0,837.4 1496.2,834.0 1494.5,830.5 1492.9,827.0 1491.4,823.5 1490.1,820.1 1488.9,816.6 1487.9,813.1 1486.9,809.5 1486.1,806.0 1485.4,802.5 1484.8,799.0 1484.4,795.5 1484.1,792.0 1483.9,788.4 1483.8,784.9 1483.9,781.4 1484.1,777.9 1484.4,774.4 1484.8,770.9 1485.3,767.4 1486.0,763.9 1486.8,760.5 1487.7,757.0" fill="#F5344E"/><polygon points="1896.6,776.8 1771.6,980.0 1773.0,1100.9 1896.7,893.4" fill="#292A2B" stroke="#292A2B" stroke-width="0.8" stroke-linejoin="round"/><polygon points="1771.6,980.0 1764.5,978.9 1757.4,977.7 1750.4,976.4 1743.4,975.0 1736.5,973.6 1729.6,972.1 1722.8,970.6 1716.0,969.0 1709.4,967.3 1702.7,965.6 1696.2,963.8 1689.7,962.0 1683.3,960.1 1677.0,958.1 1670.7,956.1 1664.5,954.1 1658.4,952.0 1652.4,949.8 1646.5,947.6 1640.6,945.3 1634.9,943.0 1629.2,940.6 1623.6,938.2 1618.1,935.7 1612.8,933.2 1607.5,930.6 1602.3,928.0 1597.2,925.4 1592.2,922.7 1587.3,919.9 1582.5,917.1 1577.9,914.3 1573.3,911.5 1568.8,908.6 1564.5,905.6 1560.2,902.7 1556.1,899.6 1552.1,896.6 1548.2,893.5 1544.4,890.4 1540.8,887.3 1544.6,1006.3 1548.2,1009.5 1552.0,1012.6 1555.8,1015.8 1559.8,1018.9 1563.9,1021.9 1568.1,1025.0 1572.4,1028.0 1576.8,1030.9 1581.3,1033.8 1585.9,1036.7 1590.7,1039.6 1595.5,1042.4 1600.4,1045.1 1605.5,1047.8 1610.6,1050.5 1615.8,1053.1 1621.2,1055.7 1626.6,1058.2 1632.1,1060.7 1637.7,1063.1 1643.4,1065.5 1649.2,1067.8 1655.1,1070.0 1661.0,1072.3 1667.1,1074.4 1673.2,1076.5 1679.4,1078.6 1685.7,1080.6 1692.0,1082.5 1698.4,1084.4 1704.9,1086.2 1711.4,1087.9 1718.1,1089.6 1724.7,1091.3 1731.5,1092.8 1738.3,1094.3 1745.1,1095.8 1752.0,1097.2 1759.0,1098.5 1766.0,1099.7 1773.0,1100.9" fill="url(#gb2)" stroke="url(#gb2)" stroke-width="0.8" stroke-linejoin="round"/><polygon points="1896.6,776.8 1771.6,980.0 1764.5,978.9 1757.4,977.7 1750.4,976.4 1743.4,975.0 1736.5,973.6 1729.6,972.1 1722.8,970.6 1716.0,969.0 1709.4,967.3 1702.7,965.6 1696.2,963.8 1689.7,962.0 1683.3,960.1 1677.0,958.1 1670.7,956.1 1664.5,954.1 1658.4,952.0 1652.4,949.8 1646.5,947.6 1640.6,945.3 1634.9,943.0 1629.2,940.6 1623.6,938.2 1618.1,935.7 1612.8,933.2 1607.5,930.6 1602.3,928.0 1597.2,925.4 1592.2,922.7 1587.3,919.9 1582.5,917.1 1577.9,914.3 1573.3,911.5 1568.8,908.6 1564.5,905.6 1560.2,902.7 1556.1,899.6 1552.1,896.6 1548.2,893.5 1544.4,890.4 1540.8,887.3" fill="#F4FAFF"/><polygon points="2215.7,921.4 2210.8,924.1 2205.9,926.8 2200.8,929.4 2195.6,932.0 2190.4,934.5 2185.0,937.0 2179.6,939.5 2174.0,941.9 2168.4,944.3 2162.7,946.6 2156.8,948.8 2151.0,951.0 2145.0,953.2 2138.9,955.3 2132.8,957.3 2126.6,959.3 2120.3,961.2 2113.9,963.1 2107.5,964.9 2101.0,966.7 2094.4,968.4 2087.7,970.1 2081.0,971.7 2074.3,973.2 2067.5,974.7 2060.6,976.1 2053.7,977.4 2046.7,978.7 2039.7,979.9 2032.6,981.1 2025.5,982.2 2018.3,983.2 2011.1,984.2 2003.9,985.1 1996.6,985.9 1989.3,986.7 1982.0,987.4 1974.6,988.0 1967.3,988.6 1959.9,989.1 1952.4,989.6 1945.0,989.9 1937.6,990.3 1930.1,990.5 1922.6,990.7 1915.2,990.8 1907.7,990.8 1900.2,990.8 1892.7,990.7 1885.3,990.5 1877.8,990.3 1870.4,990.0 1862.9,989.6 1855.5,989.2 1848.1,988.7 1840.7,988.1 1833.4,987.5 1826.0,986.8 1818.7,986.0 1811.5,985.2 1804.2,984.3 1797.0,983.3 1789.9,982.3 1782.7,981.2 1784.0,1102.1 1791.1,1103.2 1798.2,1104.2 1805.3,1105.2 1812.5,1106.1 1819.7,1107.0 1826.9,1107.8 1834.1,1108.5 1841.4,1109.1 1848.7,1109.7 1856.0,1110.2 1863.4,1110.7 1870.7,1111.0 1878.1,1111.3 1885.5,1111.6 1892.9,1111.7 1900.3,1111.8 1907.6,1111.9 1915.0,1111.8 1922.4,1111.7 1929.8,1111.6 1937.2,1111.3 1944.6,1111.0 1951.9,1110.6 1959.3,1110.2 1966.6,1109.7 1973.9,1109.1 1981.1,1108.4 1988.4,1107.7 1995.6,1106.9 2002.8,1106.1 2010.0,1105.1 2017.1,1104.1 2024.2,1103.1 2031.2,1102.0 2038.2,1100.8 2045.2,1099.5 2052.1,1098.2 2058.9,1096.9 2065.7,1095.4 2072.5,1093.9 2079.1,1092.4 2085.8,1090.7 2092.3,1089.0 2098.8,1087.3 2105.3,1085.5 2111.7,1083.6 2118.0,1081.7 2124.2,1079.7 2130.3,1077.7 2136.4,1075.6 2142.4,1073.5 2148.3,1071.3 2154.2,1069.0 2159.9,1066.7 2165.6,1064.4 2171.1,1062.0 2176.6,1059.5 2182.0,1057.0 2187.3,1054.5 2192.5,1051.9 2197.7,1049.3 2202.7,1046.6 2207.6,1043.8 2212.4,1041.1" fill="url(#gb1)" stroke="url(#gb1)" stroke-width="0.8" stroke-linejoin="round"/><polygon points="1907.2,777.8 2215.7,921.4 2210.8,924.1 2205.9,926.8 2200.8,929.4 2195.6,932.0 2190.4,934.5 2185.0,937.0 2179.6,939.5 2174.0,941.9 2168.4,944.3 2162.7,946.6 2156.8,948.8 2151.0,951.0 2145.0,953.2 2138.9,955.3 2132.8,957.3 2126.6,959.3 2120.3,961.2 2113.9,963.1 2107.5,964.9 2101.0,966.7 2094.4,968.4 2087.7,970.1 2081.0,971.7 2074.3,973.2 2067.5,974.7 2060.6,976.1 2053.7,977.4 2046.7,978.7 2039.7,979.9 2032.6,981.1 2025.5,982.2 2018.3,983.2 2011.1,984.2 2003.9,985.1 1996.6,985.9 1989.3,986.7 1982.0,987.4 1974.6,988.0 1967.3,988.6 1959.9,989.1 1952.4,989.6 1945.0,989.9 1937.6,990.3 1930.1,990.5 1922.6,990.7 1915.2,990.8 1907.7,990.8 1900.2,990.8 1892.7,990.7 1885.3,990.5 1877.8,990.3 1870.4,990.0 1862.9,989.6 1855.5,989.2 1848.1,988.7 1840.7,988.1 1833.4,987.5 1826.0,986.8 1818.7,986.0 1811.5,985.2 1804.2,984.3 1797.0,983.3 1789.9,982.3 1782.7,981.2" fill="#A32232"/></g>
<polygon points="1182.0,804.3 1209.0,804.3 1245.5,844 1209.0,883.8 1182.0,883.8 1214.5,844" fill="none" stroke="#2B50A0" stroke-width="3.6" stroke-linejoin="miter"/>
<polygon points="1231.0,804.3 1258.0,804.3 1294.5,844 1258.0,883.8 1231.0,883.8 1263.5,844" fill="none" stroke="#2B50A0" stroke-width="3.6" stroke-linejoin="miter"/>
<g id="labels" font-size="37.33" fill="#404040" text-anchor="middle" font-family="'Liberation Sans','Noto Sans CJK SC',sans-serif">
<text x="403.0" y="557.0">西北地区</text><text x="403.0" y="601.0" letter-spacing="0.6">7.53%</text>
<text x="650.0" y="557.0">东北地区</text><text x="650.0" y="601.0" letter-spacing="0.6">4.93%</text>
<text x="208.5" y="632.5">华中地区</text><text x="208.5" y="676.6" letter-spacing="0.6">9.39%</text>
<text x="177.0" y="837.0">西南地区</text><text x="177.0" y="879.2" letter-spacing="0.6">10.74%</text>
<text x="255.5" y="1100.5">华南地区</text><text x="255.5" y="1144.5" letter-spacing="0.6">13.65%</text>
<text x="888.0" y="1151.0">华北地区</text><text x="888.0" y="1194.2" letter-spacing="0.6">16.76%</text>
<text x="1060.5" y="592.0">华东地区</text><text x="1060.5" y="636.1" letter-spacing="0.6">37.00%</text>
<text x="1611.0" y="557.0">西南地区</text><text x="1611.0" y="600.6" letter-spacing="0.6">8.50%</text>
<text x="1858.5" y="557.0">东北地区</text><text x="1858.5" y="600.6" letter-spacing="0.6">5.42%</text>
<text x="1434.2" y="664.0">西北地区</text><text x="1434.2" y="707.2" letter-spacing="0.6">9.77%</text>
<text x="1429.5" y="884.5">华北地区</text><text x="1429.5" y="928.2" letter-spacing="0.6">10.26%</text>
<text x="1564.0" y="1116.5">华中地区</text><text x="1564.0" y="1158.4" letter-spacing="0.6">11.38%</text>
<text x="2079.0" y="1162.5">华南地区</text><text x="2079.0" y="1205.5" letter-spacing="0.6">17.63%</text>
<text x="2378.8" y="670.5">华东地区</text><text x="2378.8" y="713.8" letter-spacing="0.6">37.04%</text>
</g>
<g font-size="48" font-weight="700" fill="#000" font-family="'Liberation Sans','Noto Sans CJK SC',sans-serif">
<text x="353" y="1220"><tspan textLength="116" lengthAdjust="spacingAndGlyphs">2023</tspan><tspan x="472">年样本跑者区域分布</tspan></text>
<text x="1637.5" y="1220"><tspan textLength="116" lengthAdjust="spacingAndGlyphs">2024</tspan><tspan x="1756.5">年样本跑者区域分布</tspan></text>
</g>
<text x="55" y="1359" font-size="26.67" fill="#111" font-family="'Liberation Sans','Noto Sans CJK SC',sans-serif">注：本报告按全国七大自然地理分区划分统计（下同）；认证赛事区域分布参考中国田径协会《2023年中国路跑赛事蓝皮书》与《2024年中国路跑赛事蓝皮书》。</text>
<g fill="#E61E25" transform="translate(2000,1298)"><path d="M76.5,9.5 C60,12 42,22 33,35.5 C34,40 44,42 53,44 C56,46 56,50 53,55 C46,65 28,73 10.6,76.5 C20,71 32,63 38,55 C39,52 38,50 33,49 C24,48.5 15,47 12,42 C9,34 14,26 25,18 C40,10 60,8.5 76.5,9.5 Z"/><path d="M67.9,46.6 C75.5,52 74.5,60 65.5,66.5 C51,76.5 30,79.5 11,76.5 C30,75 47,69.5 57,62.5 C63,58 65,53 64,50 Z"/><path d="M81.8,43.5 L83.6,47 L87.5,48.6 L83.6,50.2 L81.8,54 L80,50.2 L76.2,48.6 L80,47 Z"/></g>
<text x="2299.5" y="1334.5" font-size="20" font-weight="900" fill="#000" text-anchor="middle" textLength="229" lengthAdjust="spacingAndGlyphs" font-family="'Liberation Sans','Noto Sans CJK SC',sans-serif">中国体育经济研究中心</text>
<text x="2323" y="1365.4" font-size="19" font-weight="700" fill="#000" text-anchor="middle" textLength="422" lengthAdjust="spacingAndGlyphs" font-family="'Liberation Serif','Noto Serif CJK SC',serif">NATIONAL CENTER OF SPORTS ECONOMIC</text>
</svg></body></html>
